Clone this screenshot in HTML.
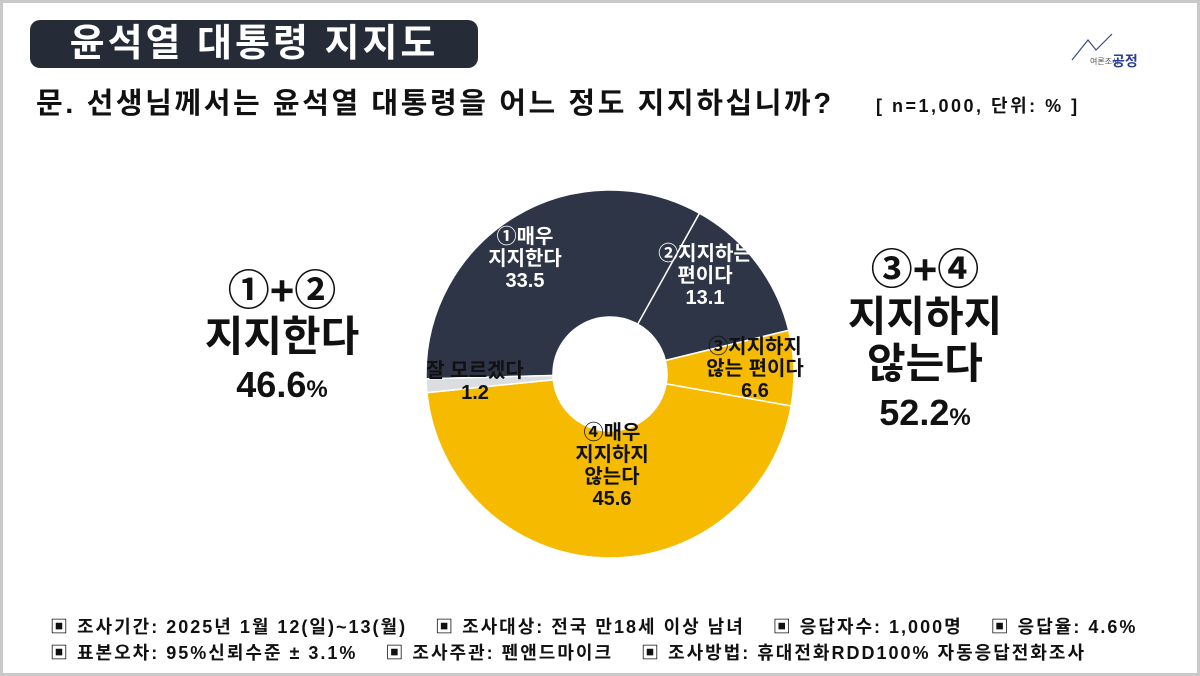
<!DOCTYPE html>
<html><head><meta charset="utf-8">
<style>
body{margin:0;width:1200px;height:676px;overflow:hidden;background:#fff;font-family:"Liberation Sans","Noto Sans CJK KR",sans-serif;}
#frame{position:absolute;left:0;top:0;width:1194px;height:670px;border:3px solid #c9c9c9;}
#title{position:absolute;left:30px;top:20px;width:448px;height:48px;background:#262b38;border-radius:10px;color:#fff;font-size:38px;font-weight:bold;text-align:center;line-height:48px;letter-spacing:3px;}
#q{position:absolute;left:36px;top:80px;font-size:29px;font-weight:bold;color:#111;letter-spacing:2.6px;white-space:nowrap;}
#n{position:absolute;left:876px;top:92px;font-size:18px;font-weight:bold;color:#111;letter-spacing:2.5px;white-space:nowrap;}
.big{position:absolute;text-align:center;color:#111;font-weight:bold;}
.foot{position:absolute;left:50px;font-size:18px;font-weight:bold;color:#111;white-space:pre;letter-spacing:2px;}
</style></head><body>
<div id="frame"></div>
<div id="title">윤석열 대통령 지지도</div>
<div style="position:absolute;left:1068px;top:30px;width:70px;height:40px">
<svg width="70" height="40"><polyline points="4,30 20,10 28,20 44,4" fill="none" stroke="#3a4a8a" stroke-width="1.2"/><text x="22" y="34" font-size="8" fill="#555">여론조사</text><text x="44" y="36" font-size="14" font-weight="bold" fill="#2a3f9a">공정</text></svg></div>
<div id="q">문. 선생님께서는 윤석열 대통령을 어느 정도 지지하십니까?</div>
<div id="n">[ n=1,000, 단위: % ]</div>
<div class="big" style="left:172px;top:268px;width:220px;font-size:42px;line-height:46px">①+②<br>지지한다<br><span style="font-size:36px">46.6</span><span style="font-size:24px">%</span></div>
<div class="big" style="left:815px;top:246px;width:220px;font-size:42px;line-height:47px">③+④<br>지지하지<br>않는다<br><span style="font-size:36px">52.2</span><span style="font-size:24px">%</span></div>
<svg id="chart" style="position:absolute;left:0;top:0" width="1200" height="676"></svg>
<div class="foot" style="top:613px">▣ 조사기간: 2025년 1월 12(일)~13(월)    ▣ 조사대상: 전국 만18세 이상 남녀    ▣ 응답자수: 1,000명    ▣ 응답율: 4.6%</div>
<div class="foot" style="top:639px">▣ 표본오차: 95%신뢰수준 ± 3.1%    ▣ 조사주관: 펜앤드마이크    ▣ 조사방법: 휴대전화RDD100% 자동응답전화조사</div>
<script>
const categories=["①매우|지지한다","②지지하는|편이다","③지지하지|않는 편이다","④매우|지지하지|않는다","잘 모르겠다"];
const values=[33.5,13.1,6.6,45.6,1.2];
const colors=["#2e3546","#2e3546","#f6bb00","#f6bb00","#dcdde0"];
const textColors=["#fff","#fff","#111","#111","#111"];
const labelPos=[[525,258],[705,275],[755,368],[612,465],[475,381]];
const cx=610,cy=374,R=184,r=57,start=-91.5;
const svg=document.getElementById('chart');
const NS="http://www.w3.org/2000/svg";
const total=values.reduce((a,b)=>a+b,0);
function pt(ang,rad){const t=(ang-90)*Math.PI/180;return [cx+rad*Math.cos(t),cy+rad*Math.sin(t)];}
let a=start;
values.forEach((v,i)=>{
 const a2=a+v/total*360;const large=(a2-a)>180?1:0;
 const p1=pt(a,R),p2=pt(a2,R),p3=pt(a2,r),p4=pt(a,r);
 const p=document.createElementNS(NS,'path');
 p.setAttribute('d',`M${p1[0]},${p1[1]} A${R},${R} 0 ${large} 1 ${p2[0]},${p2[1]} L${p3[0]},${p3[1]} A${r},${r} 0 ${large} 0 ${p4[0]},${p4[1]}Z`);
 p.setAttribute('fill',colors[i]);p.setAttribute('stroke','#fff');p.setAttribute('stroke-width','1.5');
 
 
 svg.appendChild(p);
 const t=document.createElementNS(NS,'text');
 t.setAttribute('text-anchor','middle');t.setAttribute('font-size','20');t.setAttribute('font-weight','bold');t.setAttribute('fill',textColors[i]);
 
 
 const lines=categories[i].split('|').concat([String(values[i])]);
 lines.forEach((s,j)=>{const ts=document.createElementNS(NS,'tspan');ts.setAttribute('x',labelPos[i][0]);ts.setAttribute('y',labelPos[i][1]-(lines.length-1)*11+j*22+7);ts.textContent=s;t.appendChild(ts);});
 svg.appendChild(t);
 a=a2;
});
</script>
</body></html>
